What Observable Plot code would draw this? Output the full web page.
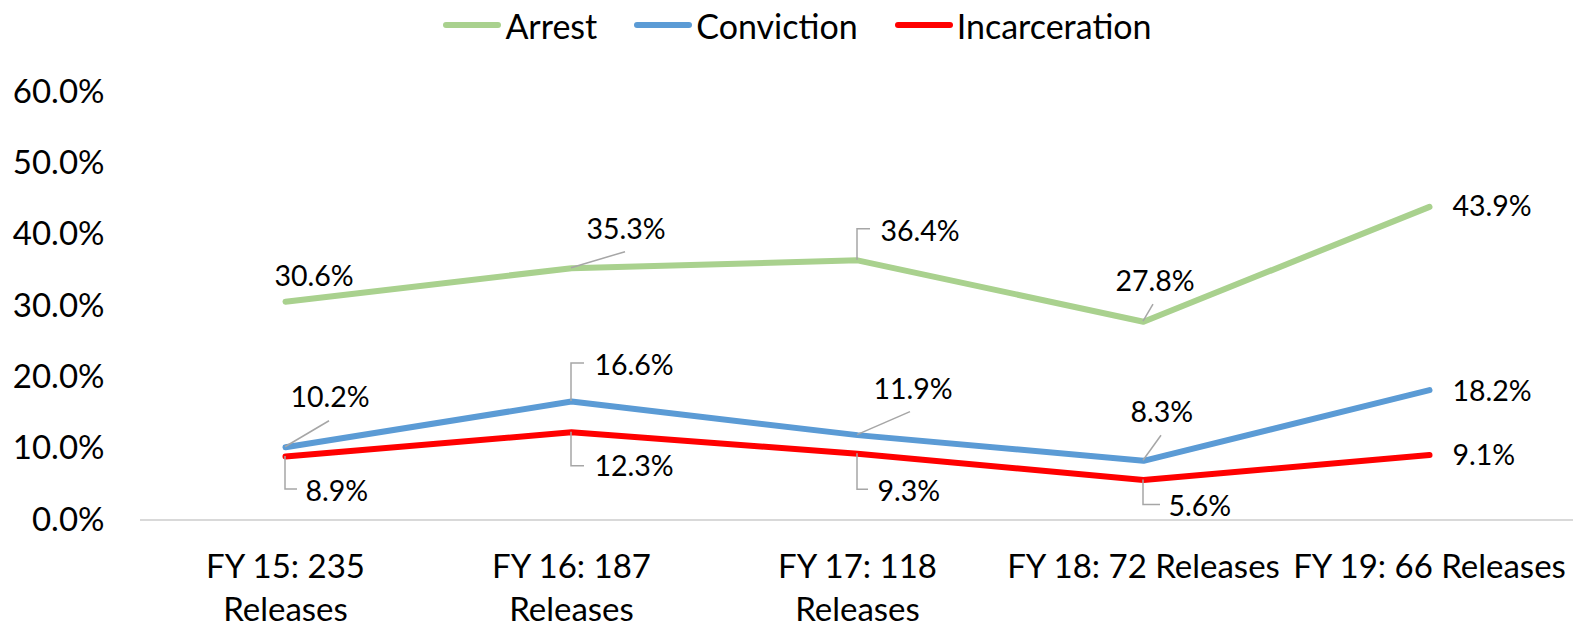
<!DOCTYPE html>
<html>
<head>
<meta charset="utf-8">
<script src="https://cdn.jsdelivr.net/npm/d3@7"></script>
<script src="https://cdn.jsdelivr.net/npm/@observablehq/plot@0.6"></script>
<style>
  html, body { margin: 0; padding: 0; background: #fff; }
  body { width: 1579px; height: 628px; overflow: hidden; font-family: Lato, sans-serif; }
  #legend { height: 50px; display: flex; justify-content: center; align-items: center; padding-left: 15px; box-sizing: border-box; }
  .item { display: flex; align-items: center; margin: 0 18px; font-size: 34px; color: #000; }
  .item svg { margin-right: 3px; }
  #chart svg { display: block; }
</style>
</head>
<body>
<div id="legend"></div>
<div id="chart"></div>
<script>
// ---- data ----
const categories = ["FY 15", "FY 16", "FY 17", "FY 18", "FY 19"];
const tickLabels = ["FY 15: 235\nReleases", "FY 16: 187\nReleases", "FY 17: 118\nReleases", "FY 18: 72 Releases", "FY 19: 66 Releases"];
const seriesNames = ["Arrest", "Conviction", "Incarceration"];
const arrest = [30.6, 35.3, 36.4, 27.8, 43.9];
const conviction = [10.2, 16.6, 11.9, 8.3, 18.2];
const incarceration = [8.9, 12.3, 9.3, 5.6, 9.1];
const yTicks = [0, 10, 20, 30, 40, 50, 60];
const seriesColors = ["#a9d18e", "#5b9bd5", "#ff0000"];

// ---- label layout (pixel offsets from each point) ----
const arrestLabelOffsets = [[-11, -25], [15, -38], [23, -28], [-28, -40], [23, 0]];
const convictionLabelOffsets = [[5, -49], [23, -36], [16, -45], [-13, -48], [23, 2]];
const incarcerationLabelOffsets = [[20, 35], [23, 35], [20, 38], [25, 27], [23, 1]];
const arrestLeaders = [null, [[54, -16]], [[0, -31], [13, -31]], [[10, -17]], null];
const convictionLeaders = [[[44, -26]], [[0, -38], [13, -38]], [[53, -23]], [[18, -25]], null];
const incarcerationLeaders = [[[0, 33], [12, 33]], [[0, 34], [13, 34]], [[0, 36], [11, 36]], [[0, 25], [17, 25]], null];

const seriesValues = [arrest, conviction, incarceration];
const seriesOffsets = [arrestLabelOffsets, convictionLabelOffsets, incarcerationLabelOffsets];
const seriesLeaders = [arrestLeaders, convictionLeaders, incarcerationLeaders];

const rows = [];
seriesNames.forEach((s, i) => categories.forEach((c, j) => rows.push({series: s, cat: c, value: seriesValues[i][j], si: i, ci: j})));

// ---- legend ----
const legend = d3.select("#legend");
seriesNames.forEach((s, i) => {
  const it = legend.append("div").attr("class", "item");
  const sv = it.append("svg").attr("width", 60).attr("height", 10);
  sv.append("line").attr("x1", 4).attr("x2", 56).attr("y1", 5).attr("y2", 5)
    .attr("stroke", seriesColors[i]).attr("stroke-width", 6).attr("stroke-linecap", "round");
  it.append("span").text(s);
});

// ---- chart ----
const labelMarks = rows.map(r => Plot.text([r], {
  x: "cat", y: "value", text: d => d.value.toFixed(1) + "%",
  dx: seriesOffsets[r.si][r.ci][0], dy: seriesOffsets[r.si][r.ci][1],
  textAnchor: "start", fontSize: 28.5, fill: "#000"
}));

const chart = Plot.plot({
  width: 1579,
  height: 578,
  marginTop: 41.5,
  marginBottom: 108.5,
  marginLeft: 140,
  marginRight: 6,
  style: {fontFamily: "Lato, sans-serif", fontSize: "33px", color: "#000", background: "#fff"},
  x: {type: "point", domain: categories, padding: 0.5, axis: null},
  y: {domain: [0, 60], ticks: yTicks, tickFormat: d => d.toFixed(1) + "%", tickSize: 0, tickPadding: 36, label: null},
  color: {domain: seriesNames, range: seriesColors},
  marks: [
    Plot.ruleY([0], {stroke: "#d9d9d9", strokeWidth: 2}),
    Plot.text(categories.map((c, j) => ({cat: c, label: tickLabels[j]})), {
      x: "cat", y: () => 0, text: "label", dy: 28, lineAnchor: "top", lineHeight: 1.29,
      fontSize: 33, fill: "#000", textAnchor: "middle"
    }),
    Plot.line(rows, {x: "cat", y: "value", z: "series", stroke: "series", strokeWidth: 6,
      strokeLinecap: "round", strokeLinejoin: "round"}),
    ...labelMarks
  ]
});
document.getElementById("chart").appendChild(chart);

// ---- leader lines (positioned through the chart's own scales) ----
const xs = chart.scale("x"), ys = chart.scale("y");
const g = d3.select(chart).append("g").attr("fill", "none").attr("stroke", "#a6a6a6").attr("stroke-width", 1.5);
rows.forEach(r => {
  const lead = seriesLeaders[r.si][r.ci];
  if (!lead) return;
  const px = xs.apply(r.cat), py = ys.apply(r.value);
  const pts = [[px, py], ...lead.map(([dx, dy]) => [px + dx, py + dy])];
  g.append("path").attr("d", d3.line()(pts));
});
</script>
</body>
</html>
